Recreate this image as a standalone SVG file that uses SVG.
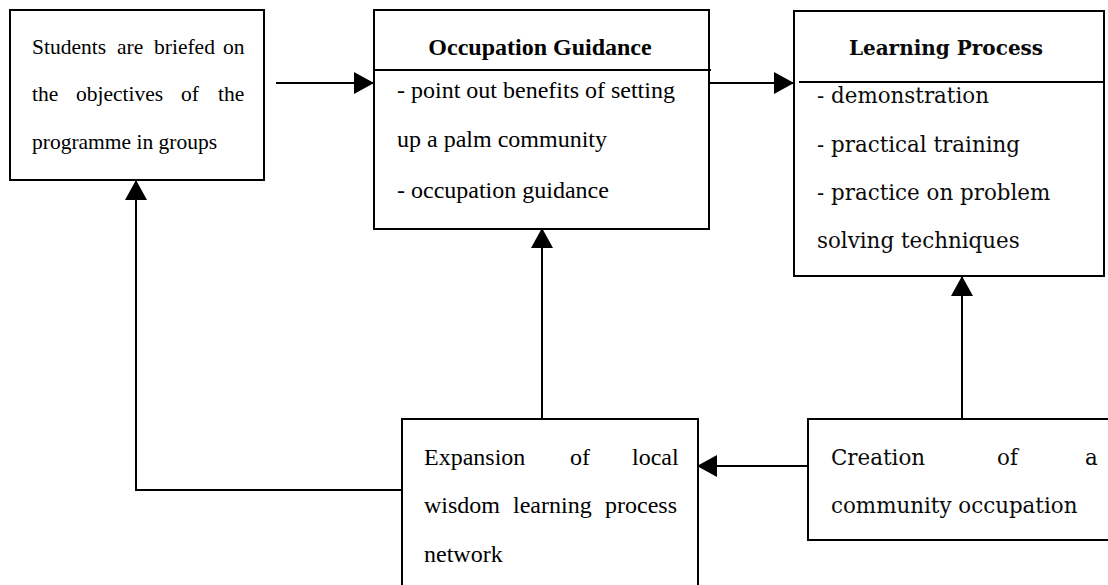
<svg xmlns="http://www.w3.org/2000/svg" width="1108" height="585" viewBox="0 0 1108 585">
  <style>
    .box { fill: #ffffff; stroke: #000000; stroke-width: 2; }
    .rule { stroke: #000000; stroke-width: 2; fill: none; }
    .wire { stroke: #000000; stroke-width: 2; fill: none; }
    .times { font-family: "Liberation Serif", "Times New Roman", serif; fill: #000000; }
    .slab { font-family: "DejaVu Serif", "Liberation Serif", serif; fill: #0a0a0a; }
    .t1 { font-size: 21.5px; }
    .t2 { font-size: 24px; }
    .s1 { font-size: 21.4px; }
    .bold { font-weight: bold; }
  </style>
  <defs>
    <marker id="arrow" markerUnits="userSpaceOnUse" markerWidth="20" markerHeight="22" refX="19" refY="11" orient="auto">
      <path d="M0,0 L20,11 L0,22 Z" fill="#000000"/>
    </marker>
  </defs>

  <rect width="1108" height="585" fill="#ffffff"/>

  <!-- connectors -->
  <g id="connectors">
    <path class="wire" d="M276,83 H373" marker-end="url(#arrow)"/>
    <path class="wire" d="M709,83 H793" marker-end="url(#arrow)"/>
    <path class="wire" d="M542,419 V229" marker-end="url(#arrow)"/>
    <path class="wire" d="M962,419 V277" marker-end="url(#arrow)"/>
    <path class="wire" d="M808,466 H698" marker-end="url(#arrow)"/>
    <path class="wire" d="M402,490 H136 V181" marker-end="url(#arrow)"/>
  </g>

  <!-- briefing -->
  <g id="briefing">
    <rect class="box" x="10" y="10" width="254" height="170"/>
    <text class="times t1" y="54"><tspan x="32">Students</tspan><tspan x="117">are</tspan><tspan x="154">briefed</tspan><tspan x="223">on</tspan></text>
    <text class="times t1" y="101"><tspan x="32">the</tspan><tspan x="76">objectives</tspan><tspan x="181">of</tspan><tspan x="218">the</tspan></text>
    <text class="times t1" x="32" y="149">programme in groups</text>
  </g>

  <!-- occupation guidance -->
  <g id="occupation-guidance">
    <rect class="box" x="374" y="10" width="335" height="219"/>
    <line class="rule" x1="374" y1="70" x2="711" y2="70"/>
    <text class="times t2 bold" x="540" y="55" text-anchor="middle">Occupation Guidance</text>
    <text class="times t2" x="397" y="98">- point out benefits of setting</text>
    <text class="times t2" x="397" y="147">up a palm community</text>
    <text class="times t2" x="397" y="198">- occupation guidance</text>
  </g>

  <!-- learning process -->
  <g id="learning-process">
    <rect class="box" x="794" y="11" width="310" height="265"/>
    <line class="rule" x1="799" y1="82" x2="1104" y2="82"/>
    <text class="slab bold" style="font-size:20px" x="946" y="55" text-anchor="middle">Learning Process</text>
    <text class="slab s1" x="817" y="103">- demonstration</text>
    <text class="slab s1" x="817" y="152">- practical training</text>
    <text class="slab s1" x="817" y="200">- practice on problem</text>
    <text class="slab s1" x="817" y="248">solving techniques</text>
  </g>

  <!-- network expansion -->
  <g id="network-expansion">
    <rect class="box" x="402" y="419" width="296" height="180"/>
    <text class="times t2" y="465"><tspan x="424">Expansion</tspan><tspan x="570">of</tspan><tspan x="632">local</tspan></text>
    <text class="times t2" y="513"><tspan x="424">wisdom</tspan><tspan x="513">learning</tspan><tspan x="605">process</tspan></text>
    <text class="times t2" x="424" y="562">network</text>
  </g>

  <!-- community occupation -->
  <g id="community-occupation">
    <rect class="box" x="808" y="419" width="320" height="121"/>
    <text class="slab s1" y="465"><tspan x="831">Creation</tspan><tspan x="997">of</tspan><tspan x="1085">a</tspan></text>
    <text class="slab s1" x="831" y="513">community occupation</text>
  </g>
</svg>
